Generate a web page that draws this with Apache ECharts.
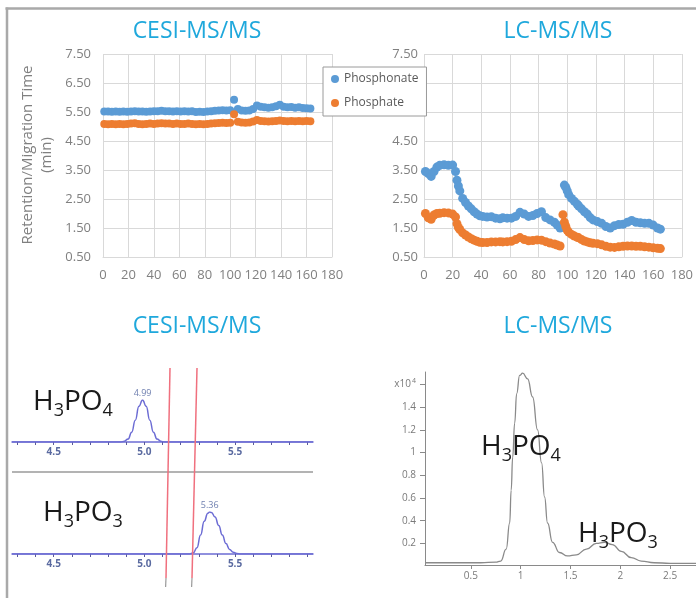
<!DOCTYPE html>
<html><head><meta charset="utf-8">
<script src="https://cdn.jsdelivr.net/npm/echarts@6/dist/echarts.min.js"></script>
<style>html,body{margin:0;padding:0;background:#fff}#c{width:696px;height:598px}</style>
</head><body><div id="c"></div>
<script>
// ---------- data ----------
const panelTitles = ['CESI-MS/MS', 'LC-MS/MS'];
const seriesNames = ['Phosphonate', 'Phosphate'];
const yAxisTitle = 'Retention/Migration Time\n(min)';

// Top-left: CESI-MS/MS migration time per run
const cesiRuns = [1,4,7,10,13,16,19,22,25,28,31,34,37,40,43,46,49,52,55,58,61,64,67,70,73,76,79,82,85,88,91,94,97,100,103,106,109,112,115,118,121,124,127,130,133,136,139,142,145,148,151,154,157,160,163];
const cesiPhosphonate = [5.52,5.52,5.51,5.52,5.51,5.52,5.51,5.52,5.53,5.52,
  5.52,5.51,5.52,5.53,5.53,5.54,5.53,5.53,5.52,5.53,
  5.52,5.53,5.52,5.53,5.50,5.51,5.50,5.52,5.53,5.54,
  5.55,5.56,5.55,5.56,5.92,5.60,5.55,5.54,5.55,5.60,
  5.72,5.68,5.66,5.65,5.66,5.70,5.75,5.68,5.66,5.67,
  5.65,5.66,5.64,5.63,5.62];
const cesiPhosphate = [5.09,5.08,5.09,5.08,5.09,5.08,5.09,5.10,5.11,5.09,
  5.08,5.09,5.10,5.09,5.10,5.11,5.10,5.10,5.09,5.10,
  5.09,5.09,5.10,5.09,5.08,5.09,5.08,5.09,5.10,5.11,
  5.12,5.13,5.12,5.13,5.42,5.16,5.14,5.13,5.14,5.17,
  5.22,5.19,5.18,5.17,5.18,5.19,5.21,5.19,5.18,5.19,
  5.18,5.19,5.18,5.19,5.18];

// Top-right: LC-MS/MS retention time per run
const lcRuns = [1,3,5,7,9,11,14,17,20,22,23,24,25,27,29,31,33,35,37,39,41,44,47,50,53,55,58,61,64,67,70,73,76,79,82,85,88,91,93,95,
  97,98,99,100,101,103,105,107,108,110,112,114,116,118,121,124,127,130,133,136,139,142,145,148,151,154,157,160,163,165];
const lcPhosphonate = [3.45,3.38,3.28,3.45,3.60,3.66,3.68,3.66,3.67,3.45,
  3.15,2.95,2.78,2.52,2.38,2.26,2.16,2.06,1.98,1.92,
  1.90,1.88,1.89,1.84,1.82,1.85,1.84,1.84,1.90,2.04,
  1.98,1.90,1.93,2.00,2.06,1.86,1.78,1.70,1.60,1.50,
  null,2.98,2.90,2.78,2.65,2.52,2.42,2.32,2.26,2.16,
  2.06,1.98,1.86,1.78,1.72,1.66,1.55,1.50,1.58,1.62,
  1.63,1.70,1.76,1.70,1.68,1.66,1.66,1.60,1.50,1.46];
const lcPhosphate = [2.00,1.85,1.80,1.95,2.00,2.01,2.03,2.02,1.98,1.88,
  1.65,1.52,1.45,1.33,1.26,1.19,1.13,1.08,1.04,1.01,
  1.00,1.00,1.02,1.02,1.03,1.02,1.03,1.04,1.10,1.17,
  1.10,1.06,1.07,1.09,1.08,1.03,0.98,0.95,0.91,0.88,
  1.96,1.70,1.55,1.42,1.36,1.28,1.22,1.18,1.16,1.10,
  1.05,1.02,0.99,0.97,0.96,0.92,0.87,0.84,0.83,0.85,
  0.87,0.88,0.88,0.87,0.87,0.85,0.84,0.82,0.80,0.79];
const runTicks = [0,20,40,60,80,100,120,140,160,180];

// Bottom-left: CESI electropherograms (relative signal)
const ceTimeH3PO4 = [4.27,4.87,4.89,4.91,4.93,4.95,4.97,4.99,5.01,5.03,5.05,5.07,5.09,5.11,5.93];
const ceSignalH3PO4 = [0,0,2,7,23,52,85,100,85,52,23,7,2,0,0];
const ceTimeH3PO3 = [4.27,5.25,5.27,5.29,5.31,5.33,5.35,5.36,5.37,5.39,5.41,5.43,5.45,5.47,5.49,5.51,5.53,5.93];
const ceSignalH3PO3 = [0,0,3,15,45,78,97,100,99,88,68,45,25,11,4,1,0,0];
const ceMinorTicks = [4.3,4.4,4.5,4.6,4.7,4.8,4.9,5.0,5.1,5.2,5.3,5.4,5.5,5.6,5.7,5.8,5.9];
const ceTickLabels = [4.5,5.0,5.5];

// Bottom-right: LC chromatogram (x10^4 counts)
const lcTime = [0.04,0.30,0.60,0.75,0.80,0.855,0.89,0.905,0.92,0.94,0.96,0.99,1.02,1.07,1.12,1.17,1.21,1.24,1.27,1.32,1.39,1.47,1.56,1.66,1.76,1.84,1.92,2.01,2.11,2.21,2.34,2.50,2.76];
const lcSignal = [0.03,0.03,0.03,0.035,0.045,0.15,0.38,0.67,0.96,1.26,1.52,1.68,1.70,1.65,1.49,1.20,0.91,0.61,0.38,0.21,0.12,0.09,0.10,0.15,0.20,0.21,0.19,0.13,0.075,0.045,0.03,0.025,0.025];
const lcTimeTicks = [0.5,1,1.5,2,2.5];
const lcSignalTicks = [0.2,0.4,0.6,0.8,1,1.2,1.4,1.6];

// ---------- styles ----------
const FONT = '"Open Sans", sans-serif';
const BLUE = '#5b9bd5', ORANGE = '#ed7d31';
const TITLE = '#1fa8dc';
const XLGRAY = '#808080', GRID = '#d9d9d9';
const TRACE = '#6c6cd4';
const LCGRAY = '#8a8a8a';

const mctx = document.createElement('canvas').getContext('2d');
function textWidth(t, size) { mctx.font = size + 'px "Open Sans"'; return mctx.measureText(t).width; }

function pairs(xs, ys) { const o = []; xs.forEach((x, i) => { if (ys[i] != null) o.push([x, ys[i]]); }); return o; }
function peakData(xs, ys) {
  const m = Math.max.apply(null, ys);
  return xs.map((x, i) => ys[i] === m ? { value: [x, ys[i]], label: { show: true } } : [x, ys[i]]);
}
function excelX(gi) {
  return { gridIndex: gi, type: 'value', min: 0, max: 180, interval: 20,
    axisLine: { show: true, lineStyle: { color: GRID } }, axisTick: { show: false },
    splitLine: { show: true, lineStyle: { color: GRID } },
    axisLabel: { color: XLGRAY, fontSize: 13, margin: 12, fontFamily: FONT, customValues: runTicks } };
}
function excelY(gi, margin) {
  return { gridIndex: gi, type: 'value', min: 0.5, max: 7.5, interval: 1,
    axisLine: { show: false }, axisTick: { show: false },
    splitLine: { show: true, lineStyle: { color: GRID } },
    axisLabel: { color: XLGRAY, fontSize: 13, margin: margin, fontFamily: FONT, formatter: v => v.toFixed(2) } };
}
function ceX(gi) {
  return { gridIndex: gi, type: 'value', min: 4.27, max: 5.93,
    axisLine: { show: true, lineStyle: { color: TRACE, width: 1.5 } },
    axisTick: { show: true, customValues: ceMinorTicks, length: 3, lineStyle: { color: '#5a5a9a' } },
    splitLine: { show: false },
    axisLabel: { customValues: ceTickLabels, formatter: v => v.toFixed(1), color: '#5a6aa0', fontSize: 10, fontWeight: 'bold', margin: 5, fontFamily: FONT } };
}
function ceY(gi) { return { gridIndex: gi, type: 'value', min: 0, max: 100, show: false }; }
function ceSeries(gi, xs, ys) {
  return { type: 'line', xAxisIndex: gi, yAxisIndex: gi, data: peakData(xs, ys), smooth: true, smoothMonotone: 'x',
    symbol: 'circle', symbolSize: 0, showSymbol: true, lineStyle: { color: TRACE, width: 1.5 }, z: 3,
    label: { show: false, position: 'top', distance: 2, formatter: p => p.value[0].toFixed(2), color: '#7080b0', fontSize: 9, fontFamily: FONT } };
}
// chemical formula H3POn with real subscripts: capTop = top of capital letters
function chem(x, capTop, sub) {
  const parts = [['H', 28], ['3', 18], ['PO', 28], [sub, 18]];
  const els = []; let cx = x;
  parts.forEach(([t, s]) => {
    const isMain = s === 28;
    els.push({ type: 'text', x: cx, y: isMain ? capTop - 5 : capTop + 9, z: 120,
      style: { text: t, font: s + 'px "Open Sans", sans-serif', fill: '#1a1a1a', align: 'left', verticalAlign: 'top', lineHeight: s } });
    cx += textWidth(t, s);
  });
  return els;
}
function gline(x1, y1, x2, y2, color, w) {
  return { type: 'line', z: 100, shape: { x1, y1, x2, y2 }, style: { stroke: color, lineWidth: w } };
}
const titleStyle = { color: TITLE, fontSize: 23, fontWeight: 'normal', fontFamily: FONT };

const option = {
  animation: false,
  textStyle: { fontFamily: FONT },
  title: [
    { text: panelTitles[0], left: 197, top: 20, textAlign: 'center', padding: 0, textStyle: titleStyle },
    { text: panelTitles[1], left: 558, top: 20, textAlign: 'center', padding: 0, textStyle: titleStyle },
    { text: panelTitles[0], left: 197, top: 315, textAlign: 'center', padding: 0, textStyle: titleStyle },
    { text: panelTitles[1], left: 558, top: 315, textAlign: 'center', padding: 0, textStyle: titleStyle }
  ],
  legend: {
    data: seriesNames, left: 323, top: 67, orient: 'vertical', icon: 'circle',
    itemWidth: 8, itemHeight: 8, itemGap: 12, padding: [6, 8, 7, 8],
    backgroundColor: '#fff', borderColor: '#9a9a9a', borderWidth: 1, z: 10,
    textStyle: { color: '#595959', fontSize: 12, fontFamily: FONT }
  },
  grid: [
    { left: 103, top: 54, width: 229, height: 203 },
    { left: 424, top: 54, width: 261, height: 203 },
    { left: 12, top: 400, width: 301, height: 42 },
    { left: 12, top: 512, width: 301, height: 42 },
    { left: 425, top: 372, width: 271, height: 193 }
  ],
  xAxis: [
    excelX(0), excelX(1), ceX(2), ceX(3),
    { gridIndex: 4, type: 'value', min: 0.04, max: 2.76,
      axisLine: { show: true, lineStyle: { color: LCGRAY } },
      axisTick: { show: true, customValues: lcTimeTicks, length: 4, lineStyle: { color: LCGRAY } },
      splitLine: { show: false },
      axisLabel: { customValues: lcTimeTicks, formatter: v => String(v), color: '#7a7a7a', fontSize: 10, margin: 6, fontFamily: FONT } }
  ],
  yAxis: [
    excelY(0, 12), excelY(1, 6), ceY(2), ceY(3),
    { gridIndex: 4, type: 'value', min: 0.01, max: 1.71,
      axisLine: { show: true, lineStyle: { color: LCGRAY } },
      axisTick: { show: true, customValues: lcSignalTicks, length: 5, lineStyle: { color: LCGRAY } },
      splitLine: { show: false },
      axisLabel: { customValues: lcSignalTicks, margin: 9, color: '#7a7a7a', fontSize: 10, fontFamily: FONT,
        formatter: v => v > 1.5 ? '{a|x10}{b|4}' : String(+v.toFixed(1)),
        rich: { a: { fontSize: 10, color: '#7a7a7a' }, b: { fontSize: 7, color: '#7a7a7a', verticalAlign: 'top', padding: [0, 0, 6, 1] } } } }
  ],
  series: [
    { name: seriesNames[0], type: 'scatter', xAxisIndex: 0, yAxisIndex: 0, symbolSize: 8, itemStyle: { color: BLUE, opacity: 1 }, data: pairs(cesiRuns, cesiPhosphonate) },
    { name: seriesNames[1], type: 'scatter', xAxisIndex: 0, yAxisIndex: 0, symbolSize: 8, itemStyle: { color: ORANGE, opacity: 1 }, data: pairs(cesiRuns, cesiPhosphate) },
    { name: seriesNames[0], type: 'scatter', xAxisIndex: 1, yAxisIndex: 1, symbolSize: 9, itemStyle: { color: BLUE, opacity: 1 }, data: pairs(lcRuns, lcPhosphonate) },
    { name: seriesNames[1], type: 'scatter', xAxisIndex: 1, yAxisIndex: 1, symbolSize: 9, itemStyle: { color: ORANGE, opacity: 1 }, data: pairs(lcRuns, lcPhosphate) },
    ceSeries(2, ceTimeH3PO4, ceSignalH3PO4),
    ceSeries(3, ceTimeH3PO3, ceSignalH3PO3),
    { type: 'line', xAxisIndex: 4, yAxisIndex: 4, data: pairs(lcTime, lcSignal), smooth: true, smoothMonotone: 'x',
      symbol: 'none', lineStyle: { color: LCGRAY, width: 1.3 } }
  ],
  graphic: [
    gline(5.5, 8.5, 696, 8.5, '#a9a9a9', 2.5),
    gline(7, 7.5, 7, 598, '#a9a9a9', 2.5),
    gline(12, 472, 313, 472, '#9a9a9a', 1.5),
    gline(170, 368, 166, 578, '#f0707e', 1.5),
    gline(166, 578, 165.6, 587, '#9a9a9a', 1.2),
    gline(197, 368, 192, 578, '#f0707e', 1.5),
    gline(192, 578, 191.6, 587, '#9a9a9a', 1.2),
    { type: 'text', x: 37.5, y: 155, rotation: Math.PI / 2, z: 100,
      style: { text: yAxisTitle, fill: '#808080', font: '15px "Open Sans", sans-serif', align: 'center', verticalAlign: 'middle', lineHeight: 19 } }
  ].concat(chem(33, 393, '4'), chem(43, 504, '3'), chem(481, 438, '4'), chem(578, 525, '3'))
};
const chart = echarts.init(document.getElementById('c'));
chart.setOption(option);
</script></body></html>
